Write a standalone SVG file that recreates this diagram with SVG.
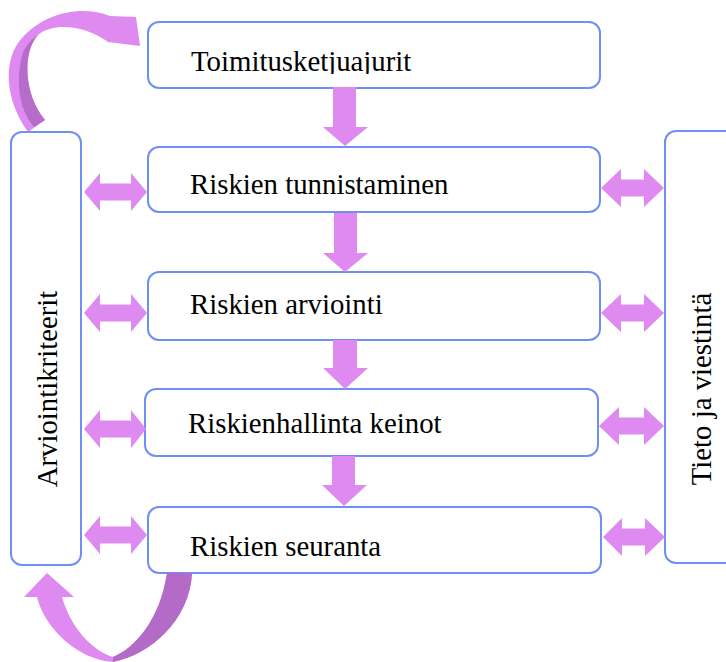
<svg xmlns="http://www.w3.org/2000/svg" width="726" height="662" viewBox="0 0 726 662">
  <style>
    .box { fill: #ffffff; stroke: #6F8FF2; stroke-width: 2; }
    .lbl { font-family: "Liberation Serif", "Times New Roman", serif; font-size: 28.8px; fill: #000000; }
    .arw { fill: #DE8AF1; }
    .arw-dark { fill: #B36BC7; }
  </style>
  <defs>
    <clipPath id="clip-top-label">
      <rect x="150" y="24" width="448" height="50"/>
    </clipPath>
  </defs>

  <rect width="726" height="662" fill="#ffffff"/>

  <!-- side columns -->
  <g id="arviointikriteerit">
    <rect class="box" x="11" y="132" width="70" height="433" rx="11"/>
    <text class="lbl" transform="translate(57,389) rotate(-90)" text-anchor="middle">Arviointikriteerit</text>
  </g>
  <g id="tieto-ja-viestinta">
    <rect class="box" x="665" y="131" width="80" height="432" rx="11"/>
    <text class="lbl" transform="translate(711,389) rotate(-90)" text-anchor="middle">Tieto ja viestintä</text>
  </g>

  <!-- process steps -->
  <g id="toimitusketjuajurit">
    <rect class="box" x="148" y="22" width="452" height="66" rx="11"/>
    <text class="lbl" x="191" y="71" clip-path="url(#clip-top-label)">Toimitusketjuajurit</text>
  </g>
  <g id="riskien-tunnistaminen">
    <rect class="box" x="148" y="147" width="452" height="65" rx="11"/>
    <text class="lbl" x="190" y="194">Riskien tunnistaminen</text>
  </g>
  <g id="riskien-arviointi">
    <rect class="box" x="148" y="272" width="452" height="68" rx="11"/>
    <text class="lbl" x="190" y="314">Riskien arviointi</text>
  </g>
  <g id="riskienhallinta-keinot">
    <rect class="box" x="145" y="389" width="453" height="67" rx="11"/>
    <text class="lbl" x="188" y="433">Riskienhallinta keinot</text>
  </g>
  <g id="riskien-seuranta">
    <rect class="box" x="148" y="507" width="453" height="66" rx="11"/>
    <text class="lbl" x="190" y="556">Riskien seuranta</text>
  </g>

  <g id="connectors">
    <!-- downward block arrows between steps -->
    <polygon class="arw" points="333,87 356,87 356,127 368,127 345,146 323,127 333,127"/>
    <polygon class="arw" points="334,213 357,213 357,253 368,253 345,272 323,253 334,253"/>
    <polygon class="arw" points="333,340 357,340 357,368 368,368 345,389 323,368 333,368"/>
    <polygon class="arw" points="332,456 355,456 355,485 367,485 344,506 322,485 332,485"/>

    <!-- two-way arrows to the left column -->
    <polygon class="arw" points="84,192 100,173 100,183.5 131,183.5 131,173 147,192 131,211 131,200.5 100,200.5 100,211"/>
    <polygon class="arw" points="84,313 100,294 100,304.5 131,304.5 131,294 147,313 131,332 131,321.5 100,321.5 100,332"/>
    <polygon class="arw" points="84,429 100,410 100,420.5 131,420.5 131,410 146,429 131,448 131,437.5 100,437.5 100,448"/>
    <polygon class="arw" points="84,535 100,516 100,526.5 131,526.5 131,516 147,535 131,554 131,543.5 100,543.5 100,554"/>

    <!-- two-way arrows to the right column -->
    <polygon class="arw" points="601,188 621,169 621,179.5 644,179.5 644,169 664,188 644,207 644,196.5 621,196.5 621,207"/>
    <polygon class="arw" points="601,313 621,294 621,304.5 644,304.5 644,294 664,313 644,332 644,321.5 621,321.5 621,332"/>
    <polygon class="arw" points="599,426 619,407 619,417.5 644,417.5 644,407 664,426 644,445 644,434.5 619,434.5 619,445"/>
    <polygon class="arw" points="603,537 622,518 622,528.5 645,528.5 645,518 665,537 645,556 645,545.5 622,545.5 622,556"/>

    <!-- curved feedback arrow: criteria column to the first step -->
    <path class="arw" d="M28,132 C5,100 2,60 22,38 C45,12 82,5 110,16 L136,17 L140,46 L108,42 C88,27 55,21 38,35 C22,52 24,95 45,120 Z"/>
    <path class="arw-dark" d="M45,120 C24,95 22,52 38,35 C30,40 24,48 22,56 C16,80 18,108 34,127 Z" opacity="0.95"/>

    <!-- curved feedback arrow: monitoring step back to the criteria column -->
    <path class="arw" d="M47,573 L74,597 L62,597 C70,625 90,650 113,657 C135,648 160,620 167,573 L192,573 C190,620 150,655 113,662 C80,660 45,630 37,597 L24,597 Z"/>
    <path class="arw-dark" d="M113,657 C135,648 160,620 167,573 L192,573 C190,620 150,655 113,662 Z"/>
  </g>
</svg>
